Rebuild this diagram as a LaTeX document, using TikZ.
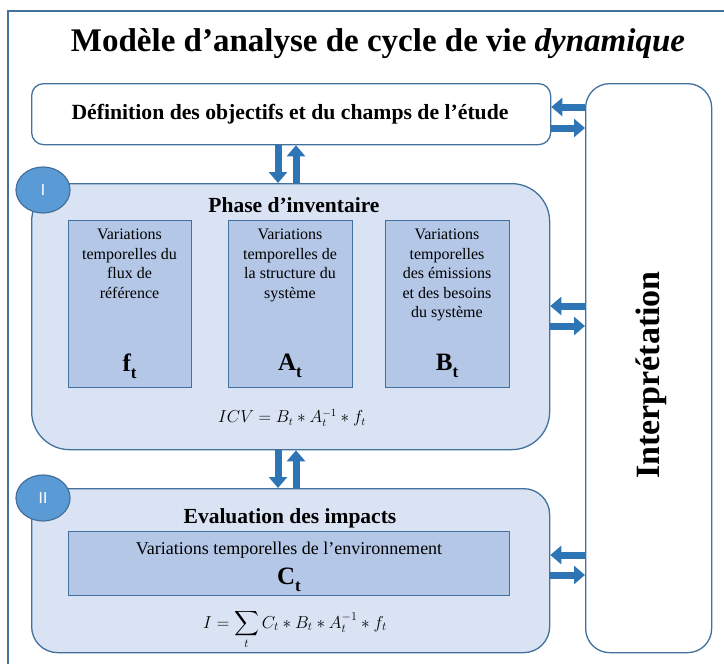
\documentclass[tikz,border=0pt]{standalone}
\usepackage{exscale}
\usepackage{fontspec}
\setmainfont{Liberation Serif}
\newfontfamily\carl{Carlito}
\usetikzlibrary{arrows.meta,shapes.geometric}
\definecolor{bord}{HTML}{41719C}
\definecolor{invfill}{HTML}{DAE3F3}
\definecolor{subfill}{HTML}{B4C7E7}
\definecolor{circfill}{HTML}{5B9BD5}
\definecolor{arrowc}{HTML}{2E75B6}
\tikzset{
  box/.style={draw=bord, line width=1.3pt, anchor=north west, inner sep=0pt},
  whitebox/.style={box, fill=white},
  phasebox/.style={box, fill=invfill},
  subbox/.style={draw=bord, line width=1.2pt, fill=subfill, anchor=north west, inner sep=0pt},
  badge/.style={ellipse, draw=bord, line width=1.2pt, fill=circfill, minimum width=54pt, minimum height=46pt, inner sep=0pt, text=white, font=\carl\fontsize{17}{17}\selectfont},
  barrow/.style={draw=arrowc, line width=7pt, -{Triangle[length=11pt,width=18pt]}},
  subtext/.style={align=center, anchor=north, inner sep=0pt, font=\fontsize{16}{19.5}\selectfont},
  sym/.style={inner sep=0pt, font=\fontsize{25}{25}\selectfont\bfseries},
  headtext/.style={inner sep=0pt, font=\fontsize{21.5}{21.5}\selectfont\bfseries},
}
\newcommand{\symb}[2]{#1\raisebox{-0.28em}{\fontsize{17}{17}\selectfont #2}}
\begin{document}
\begin{tikzpicture}[x=1pt,y=-1pt]
\useasboundingbox (0,0) rectangle (724,664);
% frame
\draw[bord, line width=1.2pt] (8,670) -- (8,11) -- (730,11);
% title
\node[inner sep=0pt, font=\fontsize{33}{33}\selectfont\bfseries] (title) at (378,44) {Modèle d’analyse de cycle de vie \textit{dynamique}};
% boxes
\node[whitebox, rounded corners=12pt, minimum width=519pt, minimum height=61pt] (def) at (31,83) {};
\node[font=\fontsize{21.7}{21.7}\selectfont\bfseries, inner sep=0pt] (deftext) at (290,114) {Définition des objectifs et du champs de l’étude};
\node[whitebox, rounded corners=24pt, minimum width=126pt, minimum height=569pt] (interp) at (585,83) {};
\node[rotate=90, font=\fontsize{34}{34}\selectfont\bfseries, inner sep=0pt] (interptext) at (651,375) {Interprétation};
\node[phasebox, rounded corners=38pt, minimum width=518pt, minimum height=266pt] (inv) at (31,183) {};
\node[phasebox, rounded corners=26pt, minimum width=518pt, minimum height=164pt] (imp) at (31,488) {};
% badges
\node[badge] (b1) at (43,190) {I};
\node[badge] (b2) at (43,498) {II};
% inventory
\node[headtext] (invtitle) at (294,205) {Phase d’inventaire};
\node[subbox, minimum width=123pt, minimum height=167pt] (fbox) at (68,220) {};
\node[subbox, minimum width=124pt, minimum height=167pt] (abox) at (228,220) {};
\node[subbox, minimum width=124pt, minimum height=167pt] (bbox) at (385,220) {};
\node[subtext] (ftext) at (129.5,229) {Variations\\temporelles du\\flux de\\référence};
\node[subtext] (atext) at (290,229) {Variations\\temporelles de\\la structure du\\système};
\node[subtext] (btext) at (447,229) {Variations\\temporelles\\des émissions\\et des besoins\\du système};
\node[sym] (fsym) at (129.5,366) {\symb{f}{t}};
\node[sym] (asym) at (290,366) {\symb{A}{t}};
\node[sym] (bsym) at (447,366) {\symb{B}{t}};
\node[inner sep=0pt, font=\fontsize{16}{16}\selectfont] (icv) at (292,418) {$ICV = B_t * A_t^{-1} * f_t$};
% impacts
\node[headtext] (imptitle) at (290,518) {Evaluation des impacts};
\node[subbox, minimum width=441pt, minimum height=64pt] (cbox) at (68,531) {};
\node[inner sep=0pt, font=\fontsize{18}{18}\selectfont] (ctext) at (289,550) {Variations temporelles de l’environnement};
\node[sym] (csym) at (289,580) {\symb{C}{t}};
\node[inner sep=0pt, font=\fontsize{17}{17}\selectfont, anchor=base] (iform) at (295,628) {$I = \displaystyle\sum_t C_t * B_t * A_t^{-1} * f_t$};
% arrow positions
\coordinate (dx) at (278,0);
\coordinate (ux) at (296,0);
\coordinate (y1) at (0,107);
\coordinate (y2) at (0,128);
\coordinate (y3) at (0,306);
\coordinate (y4) at (0,326);
\coordinate (y5) at (0,555);
\coordinate (y6) at (0,575);
% vertical arrows
\draw[barrow] (def.south -| dx) -- (inv.north -| dx);
\draw[barrow] (inv.north -| ux) -- (def.south -| ux);
\draw[barrow] (inv.south -| dx) -- (imp.north -| dx);
\draw[barrow] (imp.north -| ux) -- (inv.south -| ux);
% horizontal arrows
\draw[barrow] (interp.west |- y1) -- (def.east |- y1);
\draw[barrow] (def.east |- y2) -- (interp.west |- y2);
\draw[barrow] (interp.west |- y3) -- (inv.east |- y3);
\draw[barrow] (inv.east |- y4) -- (interp.west |- y4);
\draw[barrow] (interp.west |- y5) -- (imp.east |- y5);
\draw[barrow] (imp.east |- y6) -- (interp.west |- y6);
\end{tikzpicture}
\end{document}
